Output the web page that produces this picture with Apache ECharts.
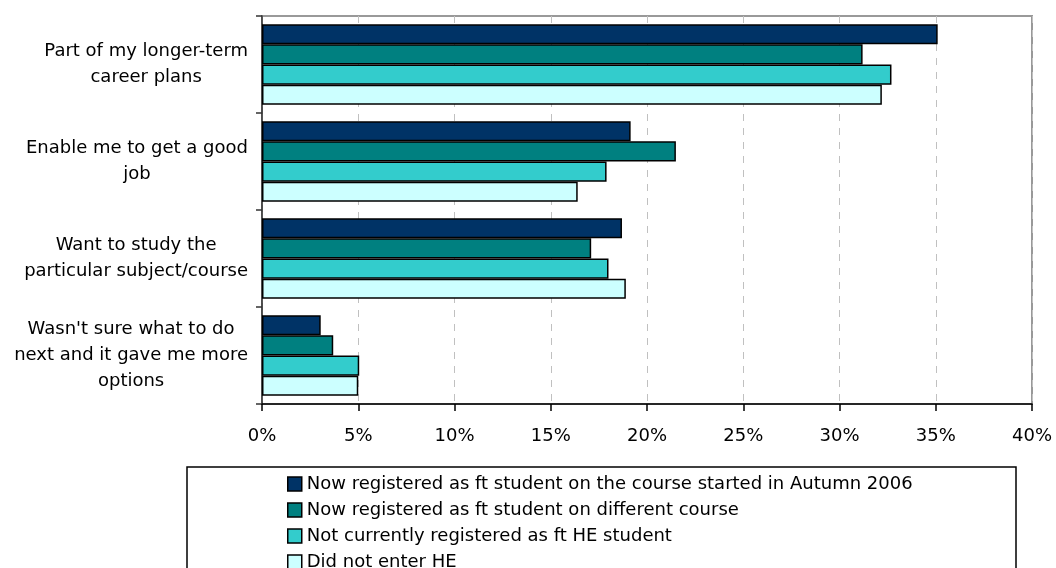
<!DOCTYPE html>
<html>
<head>
<meta charset="utf-8">
<script src="https://cdn.jsdelivr.net/npm/echarts@6/dist/echarts.min.js"></script>
<style>
html,body{margin:0;padding:0;background:#fff;}
#chart{width:1056px;height:568px;}
</style>
</head>
<body>
<div id="chart"></div>
<script>
// Categories (top to bottom)
const categories = [
  "Part of my longer-term\ncareer plans",
  "Enable me to get a good\njob",
  "Want to study the\nparticular subject/course",
  "Wasn't sure what to do\nnext and it gave me more\noptions"
];
// Series names
const seriesNames = [
  "Now registered as ft student on the course started in Autumn 2006",
  "Now registered as ft student on different course",
  "Not currently registered as ft HE student",
  "Did not enter HE"
];
// Values (%)
const nowSameCourse = [35.1, 19.15, 18.7, 3.05];
const nowDifferentCourse = [31.2, 21.5, 17.1, 3.7];
const notRegistered = [32.7, 17.9, 18.0, 5.05];
const didNotEnter = [32.2, 16.4, 18.9, 5.0];
// X-axis ticks
const xMin = 0, xMax = 40, xStep = 5;

const colors = ["#003366", "#008080", "#33CCCC", "#CCFFFF"];
const seriesData = [nowSameCourse, nowDifferentCourse, notRegistered, didNotEnter];
const FONT = "DejaVu Sans";

const chart = echarts.init(document.getElementById('chart'));
chart.setOption({
  animation: false,
  backgroundColor: '#fff',
  textStyle: {fontFamily: FONT},
  grid: {
    left: 262, right: 24, top: 16, bottom: 164,
    show: true, borderColor: '#999999', borderWidth: 2, backgroundColor: 'transparent'
  },
  xAxis: {
    type: 'value', min: xMin, max: xMax, interval: xStep,
    axisLine: {show: true, lineStyle: {color: '#000', width: 1.5}},
    axisTick: {show: true, length: 7, lineStyle: {color: '#000', width: 1.5}},
    axisLabel: {formatter: '{value}%', color: '#000', fontSize: 18, fontFamily: FONT, margin: 23},
    splitLine: {show: true, lineStyle: {color: '#c0c0c0', width: 1, type: [7, 7]}}
  },
  yAxis: {
    type: 'category', data: categories, inverse: true,
    axisLine: {show: true, lineStyle: {color: '#333', width: 1.5}},
    axisTick: {show: true, length: 6, lineStyle: {color: '#333', width: 1.5}},
    splitLine: {show: false},
    axisLabel: {
      align: 'right', margin: 14, color: '#000',
      formatter: function (v) { return v.split('\n').map(l => '{c|' + l + '}').join('\n'); },
      rich: {c: {align: 'center', fontSize: 18, lineHeight: 26, fontFamily: FONT, color: '#000'}}
    }
  },
  legend: {
    orient: 'vertical', left: 282, top: 470, height: 140, width: 730,
    icon: 'rect', itemWidth: 14, itemHeight: 14, itemGap: 8,
    itemStyle: {borderColor: '#000', borderWidth: 1.5},
    textStyle: {fontSize: 18, lineHeight: 18, fontFamily: FONT, color: '#000'},
    data: seriesNames
  },
  graphic: [{
    type: 'rect', z: -1,
    shape: {x: 187, y: 467, width: 829, height: 120},
    style: {fill: '#fff', stroke: '#000', lineWidth: 1.5}
  }],
  series: seriesNames.map((n, i) => ({
    name: n, type: 'bar', data: seriesData[i],
    barCategoryGap: '17%', barGap: '0%',
    itemStyle: {color: colors[i], borderColor: '#000', borderWidth: 1.5}
  }))
});
</script>
</body>
</html>
